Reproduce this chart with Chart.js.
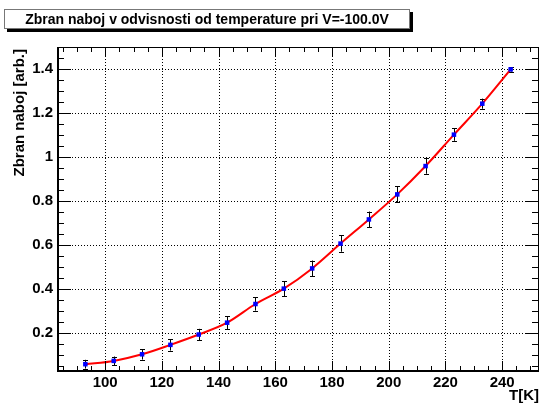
<!DOCTYPE html>
<html>
<head>
<meta charset="utf-8">
<script src="https://cdn.jsdelivr.net/npm/chart.js@4.4.1/dist/chart.umd.min.js"></script>
<style>
  html, body { margin: 0; padding: 0; background: #fff; }
  #wrap { position: relative; width: 543px; height: 404px; overflow: hidden; }
  #title {
    position: absolute; left: 4px; top: 9px; width: 406px; height: 20px;
    box-sizing: border-box; border: 1px solid #777; background: #fff;
    box-shadow: 3px 3px 0 #000;
    font: bold 14px "Liberation Sans", Arial, sans-serif; line-height: 18px;
    text-align: center; color: #000; white-space: nowrap;
  }
</style>
</head>
<body>
<div id="wrap">
  <canvas id="chart" width="543" height="404"></canvas>
  <div id="title">Zbran naboj v odvisnosti od temperature pri V=-100.0V</div>
</div>
<script>
// meritve: temperatura [K], zbran naboj [arb.] in napaka
const temps = [93, 103, 113, 123, 133, 143, 153, 163, 173, 183, 193, 203, 213, 223, 233, 243];
const charge = [0.056, 0.071, 0.101, 0.144, 0.191, 0.245, 0.330, 0.400, 0.492, 0.605, 0.715, 0.829, 0.958, 1.101, 1.242, 1.398];
const chargeErr = [0.020, 0.020, 0.024, 0.026, 0.026, 0.030, 0.030, 0.034, 0.036, 0.037, 0.036, 0.036, 0.035, 0.028, 0.023, 0.010];

const xTicks = [100, 120, 140, 160, 180, 200, 220, 240];
const yTicks = [0.2, 0.4, 0.6, 0.8, 1, 1.2, 1.4];
const yTickLabels = ["0.2", "0.4", "0.6", "0.8", "1", "1.2", "1.4"];

const X_MIN = 83, X_MAX = 253;
const Y_MIN = 0.025, Y_MAX = 1.5;

const FONT = "'Liberation Sans', Arial, Helvetica, sans-serif";
Chart.defaults.font.family = FONT;

// manjše oznake: razdeli vsak interval med glavnimi oznakami na n delov
function minorValues(major, n, min, max) {
  const step = (major[1] - major[0]) / n;
  const out = [];
  for (let v = major[0]; v >= min - 1e-9; v -= step) out.push(v);
  for (let v = major[0] + step; v <= max + 1e-9; v += step) out.push(v);
  return out;
}

const rootFrame = {
  id: "rootFrame",
  beforeDatasetsDraw(chart) {
    const { ctx, chartArea: a, scales } = chart;
    ctx.save();
    ctx.strokeStyle = "#000";
    ctx.lineWidth = 1;
    ctx.setLineDash([1, 2]);
    for (const v of xTicks) {
      const x = Math.round(scales.x.getPixelForValue(v)) + 0.5;
      ctx.beginPath(); ctx.moveTo(x, a.top); ctx.lineTo(x, a.bottom); ctx.stroke();
    }
    for (const v of yTicks) {
      const y = Math.round(scales.y.getPixelForValue(v)) + 0.5;
      ctx.beginPath(); ctx.moveTo(a.left, y); ctx.lineTo(a.right, y); ctx.stroke();
    }
    ctx.setLineDash([]);
    // error bars
    ctx.lineWidth = 1;
    for (let i = 0; i < temps.length; i++) {
      const x = Math.round(scales.x.getPixelForValue(temps[i])) + 0.5;
      const y1 = scales.y.getPixelForValue(charge[i] + chargeErr[i]);
      const y2 = scales.y.getPixelForValue(charge[i] - chargeErr[i]);
      ctx.beginPath();
      ctx.moveTo(x, y1); ctx.lineTo(x, y2);
      ctx.moveTo(x - 2.5, Math.round(y1) + 0.5); ctx.lineTo(x + 2.5, Math.round(y1) + 0.5);
      ctx.moveTo(x - 2.5, Math.round(y2) + 0.5); ctx.lineTo(x + 2.5, Math.round(y2) + 0.5);
      ctx.stroke();
    }
    ctx.restore();
  },
  afterDraw(chart) {
    const { ctx, chartArea: a, scales } = chart;
    ctx.save();
    ctx.strokeStyle = "#000";
    ctx.lineWidth = 1;
    ctx.strokeRect(a.left + 0.5, a.top + 0.5, a.right - a.left - 1, a.bottom - a.top - 1);
    ctx.lineWidth = 2;
    ctx.beginPath();
    ctx.moveTo(a.left, a.bottom); ctx.lineTo(a.right, a.bottom);
    ctx.moveTo(a.left + 1, a.top); ctx.lineTo(a.left + 1, a.bottom);
    ctx.stroke();

    ctx.lineWidth = 1;
    const xMinor = minorValues(xTicks, 4, X_MIN, X_MAX);
    const yMinor = minorValues(yTicks, 4, Y_MIN, Y_MAX);
    ctx.beginPath();
    for (const v of xMinor) {
      const major = xTicks.some((t) => Math.abs(t - v) < 1e-6);
      const len = major ? 10 : 5;
      const x = Math.round(scales.x.getPixelForValue(v)) + 0.5;
      ctx.moveTo(x, a.bottom); ctx.lineTo(x, a.bottom - len);
      ctx.moveTo(x, a.top); ctx.lineTo(x, a.top + len);
    }
    for (const v of yMinor) {
      const major = yTicks.some((t) => Math.abs(t - v) < 1e-6);
      const len = major ? 14 : 7;
      const y = Math.round(scales.y.getPixelForValue(v)) + 0.5;
      ctx.moveTo(a.left, y); ctx.lineTo(a.left + len, y);
      ctx.moveTo(a.right, y); ctx.lineTo(a.right - len, y);
    }
    ctx.stroke();

    // naslova osi
    ctx.fillStyle = "#000";
    ctx.font = "bold 15px " + FONT;
    ctx.textAlign = "right";
    ctx.textBaseline = "alphabetic";
    ctx.fillText("T[K]", a.right, 400);
    ctx.translate(24, a.top + 2);
    ctx.rotate(-Math.PI / 2);
    ctx.fillText("Zbran naboj [arb.]", 0, 0);
    ctx.restore();
  },
};

new Chart(document.getElementById("chart"), {
  type: "line",
  data: {
    datasets: [
      {
        label: "meritve",
        data: temps.map((t, i) => ({ x: t, y: charge[i] })),
        showLine: false,
        pointStyle: "rect",
        pointRadius: 3.2,
        pointBorderWidth: 0,
        pointBackgroundColor: "#0000ff",
        pointBorderColor: "#0000ff",
        order: 0,
      },
      {
        label: "fit",
        data: temps.map((t, i) => ({ x: t, y: charge[i] })),
        borderColor: "#ff0000",
        borderWidth: 2,
        pointRadius: 0,
        cubicInterpolationMode: "monotone",
        fill: false,
        order: 1,
      },
    ],
  },
  options: {
    responsive: false,
    animation: false,
    layout: { padding: { top: 47, right: 2, left: 0, bottom: 0 } },
    plugins: { legend: { display: false }, title: { display: false }, tooltip: { enabled: false } },
    scales: {
      x: {
        type: "linear",
        min: X_MIN,
        max: X_MAX,
        afterBuildTicks: (s) => { s.ticks = xTicks.map((v) => ({ value: v })); },
        afterFit: (s) => { s.height = 33; },
        grid: { display: false, drawTicks: false },
        border: { display: false },
        ticks: { color: "#000", font: { size: 15, weight: "bold" }, padding: 3, maxRotation: 0, autoSkip: false },
      },
      y: {
        type: "linear",
        min: Y_MIN,
        max: Y_MAX,
        afterBuildTicks: (s) => { s.ticks = yTicks.map((v) => ({ value: v })); },
        afterFit: (s) => { s.width = 57; },
        grid: { display: false, drawTicks: false },
        border: { display: false },
        ticks: {
          color: "#000",
          font: { size: 15, weight: "bold" },
          padding: 4,
          autoSkip: false,
          callback: (v, i) => yTickLabels[i],
        },
      },
    },
  },
  plugins: [rootFrame],
});
</script>
</body>
</html>
